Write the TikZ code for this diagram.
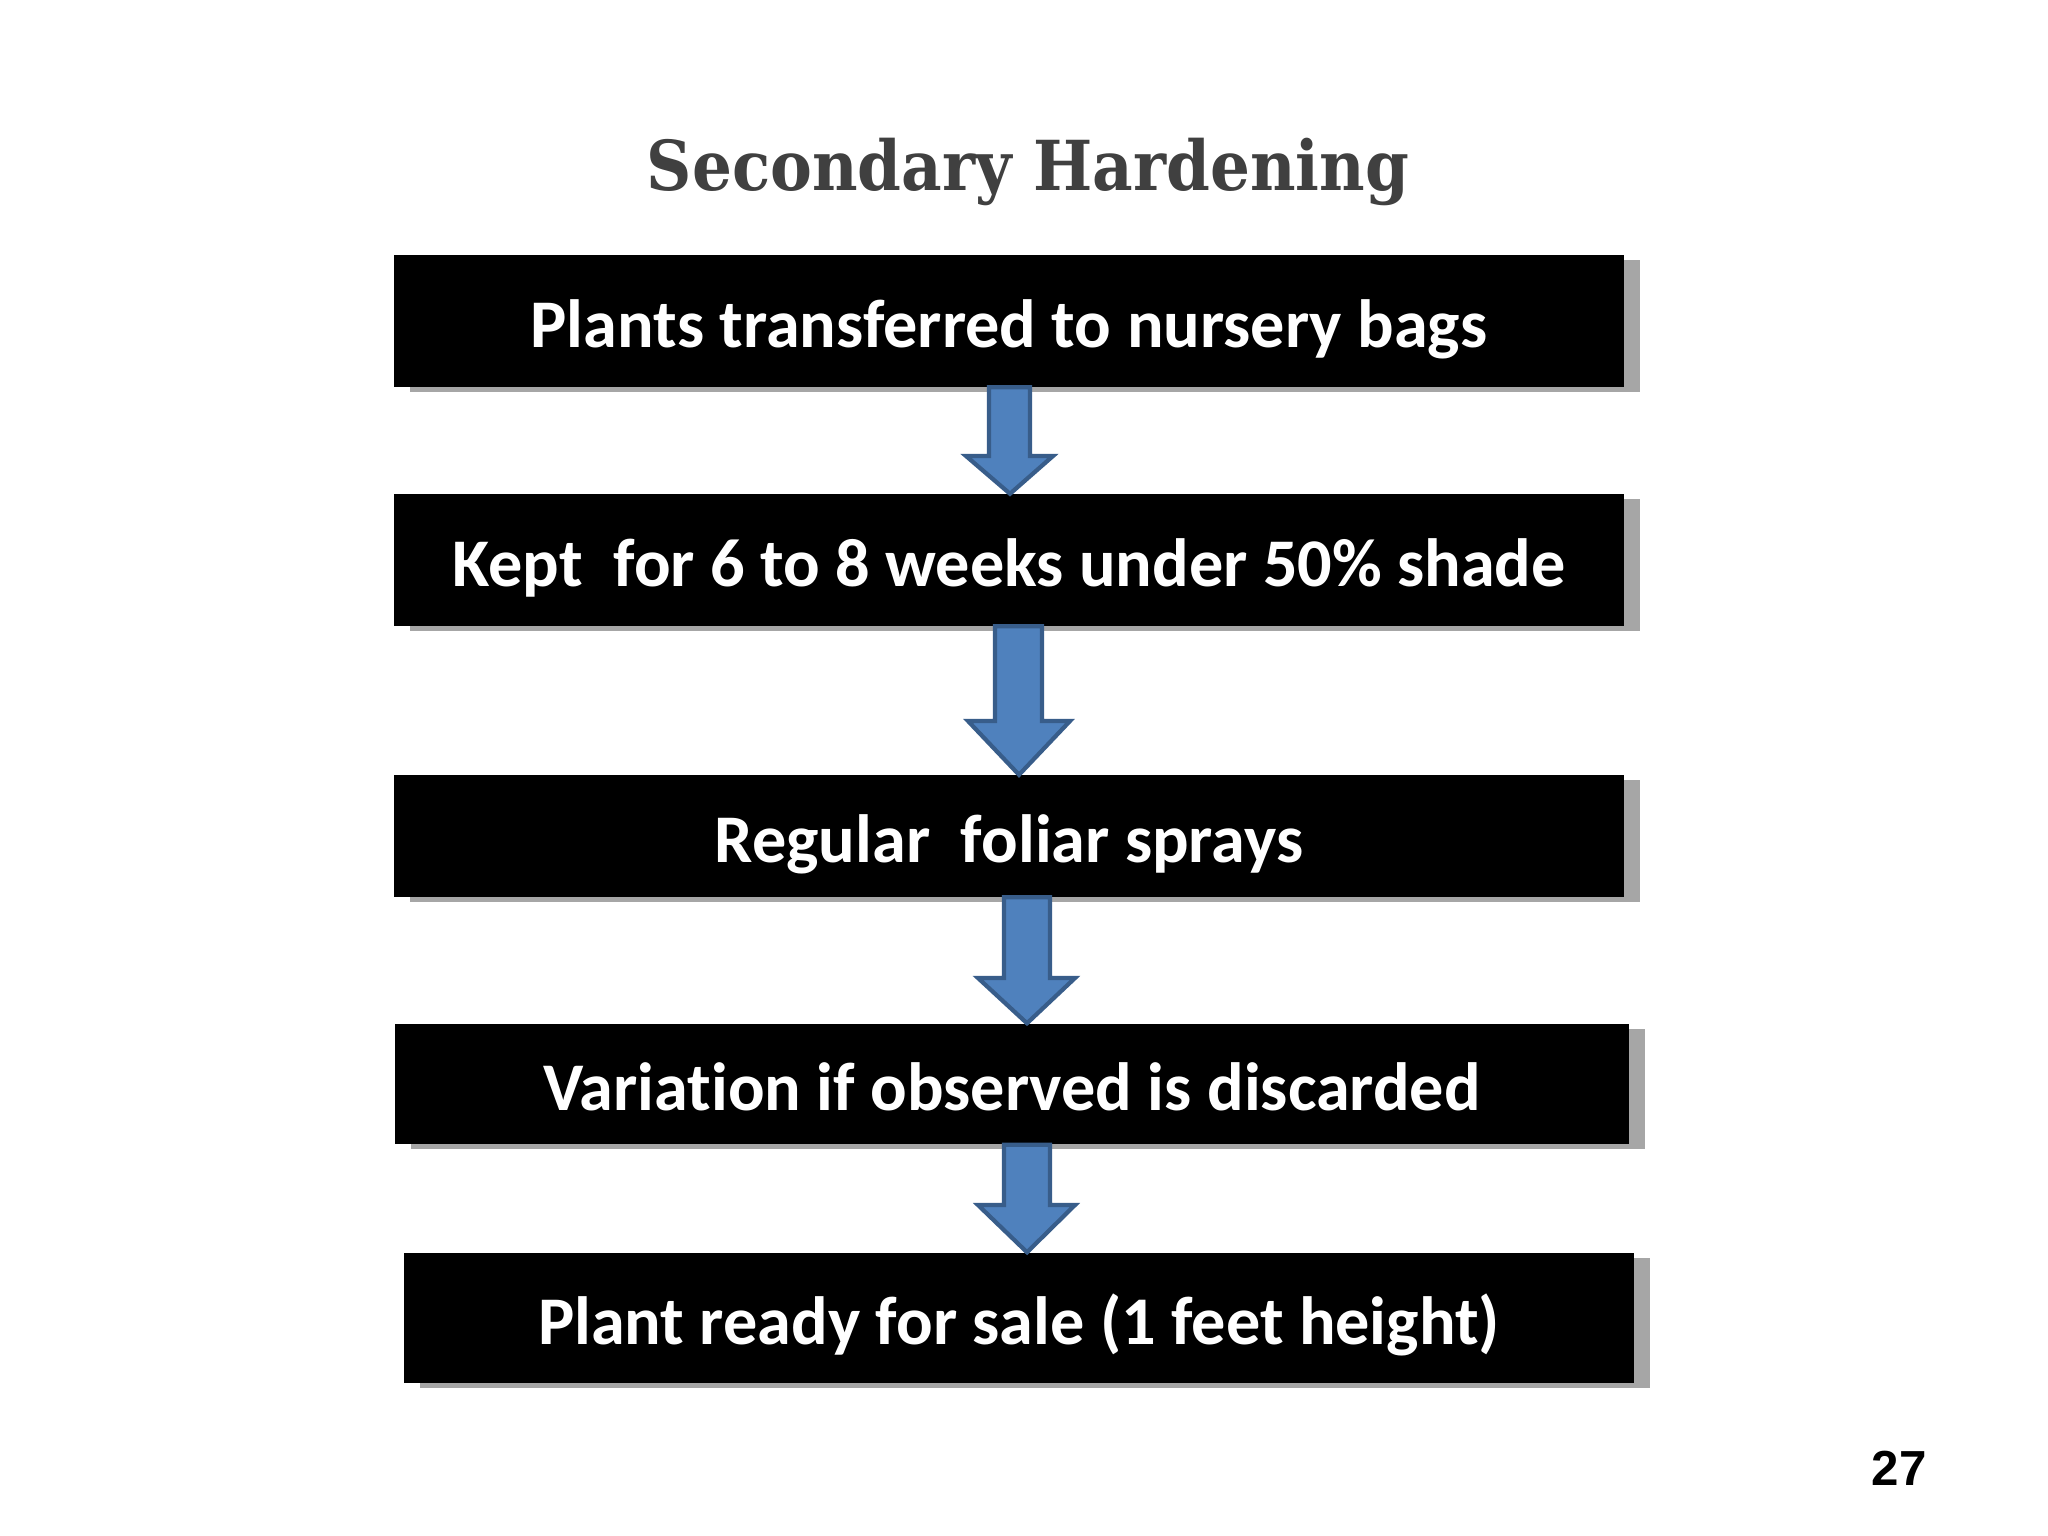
\documentclass[tikz,border=0pt]{standalone}
\usepackage{fontspec}
\setmainfont{Carlito}[Ligatures=NoCommon]
\newfontfamily\titlefont[FakeStretch=0.91]{DejaVu Serif}
\newfontfamily\numfont{Liberation Sans}
\usetikzlibrary{shadows,calc}
\definecolor{arrowfill}{HTML}{4F81BD}
\definecolor{arrowline}{HTML}{385D8A}
\definecolor{titlegray}{HTML}{404040}
\definecolor{shadowgray}{HTML}{A6A6A6}
\tikzset{
  stepbox/.style={fill=black, text=white, inner sep=0pt,
    minimum width=12.29cm, font=\fontsize{19.4}{23}\selectfont\bfseries,
    text height=15.2pt, text depth=0pt,
    drop shadow={shadow xshift=0.16cm, shadow yshift=-0.05cm, fill=shadowgray, opacity=1}},
  blockarrow/.style={fill=arrowfill, draw=arrowline, line width=1.2pt, line join=miter}
}
\begin{document}
\begin{tikzpicture}[x=0.01cm,y=-0.01cm]
\useasboundingbox[fill=white] (0,0) rectangle (2048,1536);
\node[font=\titlefont\fontsize{19.6}{24}\selectfont\bfseries, text=titlegray] (title) at (1028,172) {Secondary Hardening};
\node[stepbox, minimum height=1.31cm] (b1) at (1009,321) {Plants transferred to nursery bags};
\node[stepbox, minimum height=1.31cm] (b2) at (1009,560) {Kept\ \ for 6 to 8 weeks under 50\% shade};
\node[stepbox, minimum height=1.21cm] (b3) at (1009,836) {Regular\ \ foliar sprays};
\node[stepbox, minimum height=1.20cm, minimum width=12.33cm] (b4) at (1012,1084) {Variation if observed is discarded};
\node[stepbox, minimum height=1.30cm] (b5) at (1019,1318) {Plant ready for sale (1 feet height)};
\node[font=\numfont\fontsize{14}{16}\selectfont\bfseries] (page) at (1899,1468) {27};
% block arrows
\draw[blockarrow] (989,0 |- b1.south) -- (989,456) -- (966,456) -- (1010,0 |- b2.north) -- (1053,456) -- (1030,456) -- (1030,0 |- b1.south) -- cycle;
\draw[blockarrow] (995,0 |- b2.south) -- (995,721) -- (968,721) -- (1019,0 |- b3.north) -- (1070,721) -- (1042,721) -- (1042,0 |- b2.south) -- cycle;
\draw[blockarrow] (1004,0 |- b3.south) -- (1004,978) -- (978,978) -- (1027,0 |- b4.north) -- (1075,978) -- (1050,978) -- (1050,0 |- b3.south) -- cycle;
\draw[blockarrow] (1004,0 |- b4.south) -- (1004,1205) -- (978,1205) -- (1027,0 |- b5.north) -- (1075,1205) -- (1050,1205) -- (1050,0 |- b4.south) -- cycle;
\end{tikzpicture}
\end{document}
